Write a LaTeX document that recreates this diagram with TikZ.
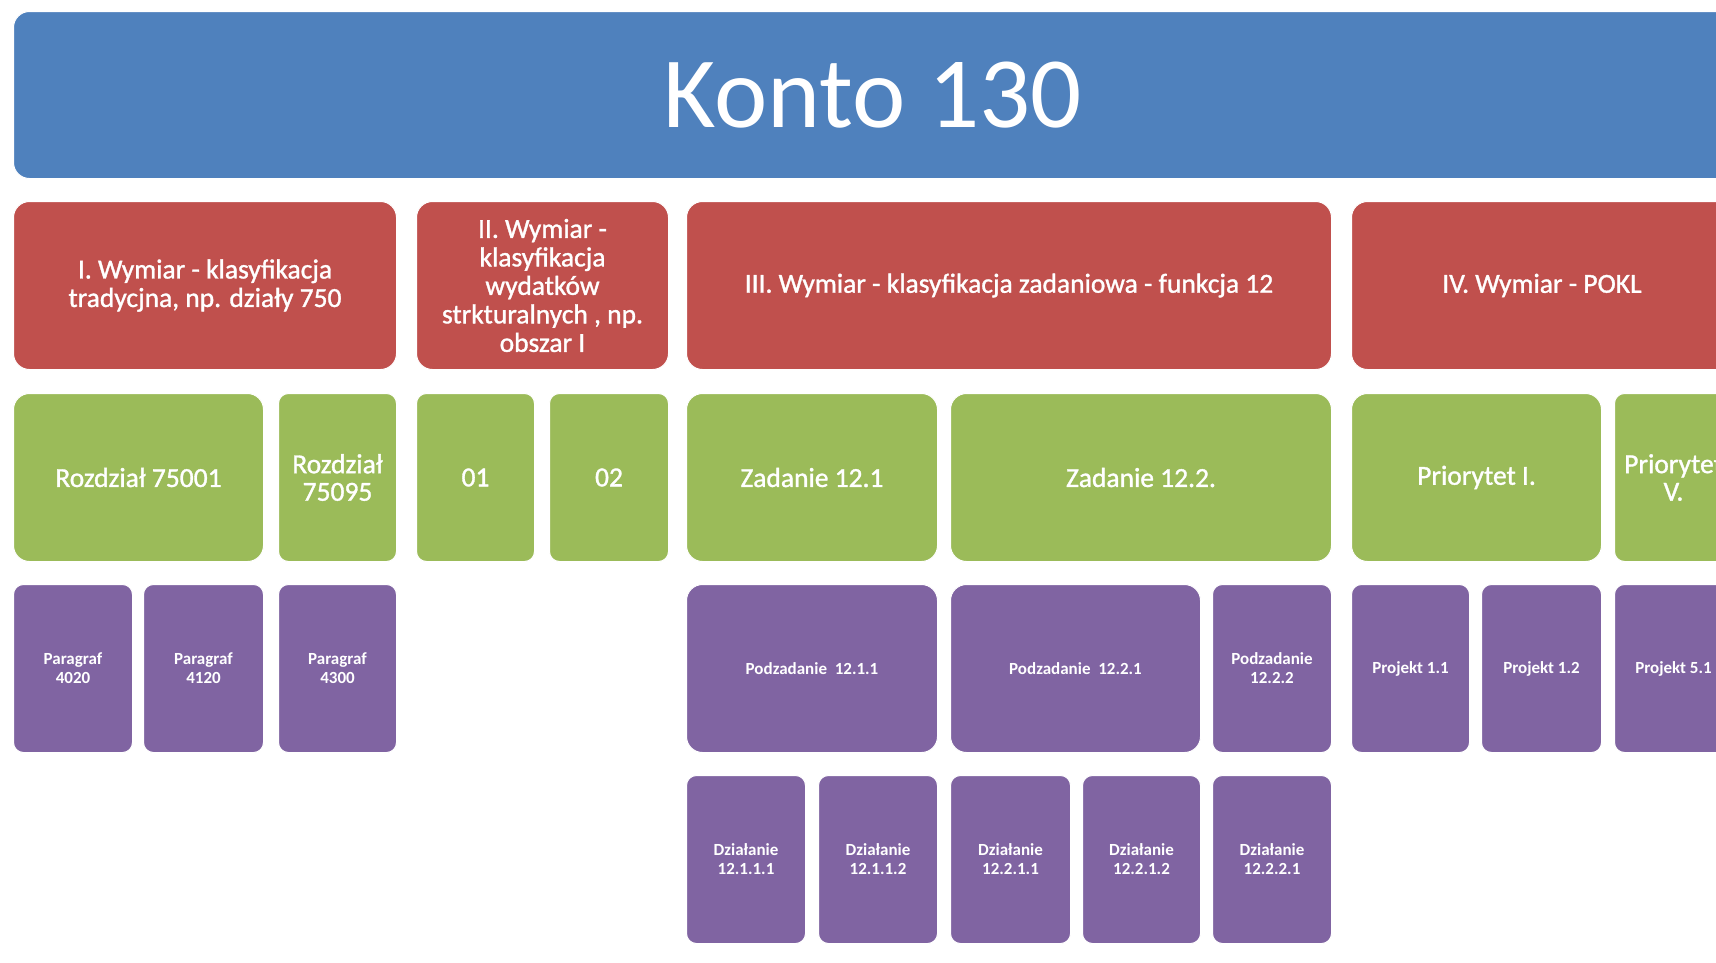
\documentclass[tikz,border=0pt]{standalone}
\usepackage{fontspec}
\setmainfont{Carlito}
\newfontfamily\heavier[FakeBold=1.2]{Carlito}
\definecolor{kblue}{HTML}{4F81BD}
\definecolor{kred}{HTML}{C0504D}
\definecolor{kgreen}{HTML}{9BBB59}
\definecolor{kpurple}{HTML}{8064A2}
\tikzset{
  tile/.style={draw=white, line width=1pt, text=white, anchor=north west,
    inner sep=2pt, minimum height=168pt, align=center, rounded corners=16pt},
  narrow/.style={rounded corners=10pt},
  head/.style={tile, fill=kblue, minimum height=167pt, font=\fontsize{101}{121}\selectfont},
  dimbox/.style={tile, fill=kred, font=\heavier\fontsize{27.5}{28.5}\selectfont},
  partbox/.style={tile, fill=kgreen, font=\heavier\fontsize{27.5}{27.5}\selectfont},
  leafbox/.style={tile, fill=kpurple, font=\bfseries\fontsize{17}{19}\selectfont},
}
\begin{document}
\begin{tikzpicture}[x=1pt,y=-1pt]
\useasboundingbox (0,0) rectangle (1716,962);
\fill[white] (0,0) rectangle (1716,962);
\clip (0,0) rectangle (1716,962);

% title bar
\node[head, minimum width=1719pt] (konto) at (13,11) {Konto 130};

% dimensions
\node[dimbox, minimum width=383pt] (dim1) at (13,201) {I. Wymiar - klasyfikacja\\tradycjna, np. działy 750};
\node[dimbox, minimum width=252pt] (dim2) at (416,201) {II. Wymiar -\\klasyfikacja\\wydatków\\strkturalnych , np.\\obszar I};
\node[dimbox, minimum width=645pt] (dim3) at (686,201) {III. Wymiar - klasyfikacja zadaniowa - funkcja 12};
\node[dimbox, minimum width=381pt] (dim4) at (1351,201) {IV. Wymiar - POKL};

% second level
\node[partbox, minimum width=250pt] (roz1) at (13,393) {Rozdział 75001};
\node[partbox, narrow, minimum width=118pt] (roz2) at (278,393) {Rozdział\\75095};
\node[partbox, narrow, minimum width=118pt] (obs1) at (416,393) {01};
\node[partbox, narrow, minimum width=119pt] (obs2) at (549,393) {02};
\node[partbox, minimum width=251pt] (zad1) at (686,393) {Zadanie 12.1};
\node[partbox, minimum width=381pt] (zad2) at (950,393) {Zadanie 12.2.};
\node[partbox, minimum width=250pt] (pri1) at (1351,393) {Priorytet I.};
\node[partbox, narrow, minimum width=118pt] (pri5) at (1614,393) {Priorytet\\V.};

% third level
\node[leafbox, narrow, minimum width=119pt] (par1) at (13,584) {Paragraf\\4020};
\node[leafbox, narrow, minimum width=120pt] (par2) at (143,584) {Paragraf\\4120};
\node[leafbox, narrow, minimum width=118pt] (par3) at (278,584) {Paragraf\\4300};
\node[leafbox, minimum width=251pt] (pod1) at (686,584) {Podzadanie~~12.1.1};
\node[leafbox, minimum width=250pt] (pod2) at (950,584) {Podzadanie~~12.2.1};
\node[leafbox, narrow, minimum width=119pt] (pod3) at (1212,584) {Podzadanie\\12.2.2};
\node[leafbox, narrow, minimum width=118pt] (prj1) at (1351,584) {Projekt 1.1};
\node[leafbox, narrow, minimum width=120pt] (prj2) at (1481,584) {Projekt 1.2};
\node[leafbox, narrow, minimum width=118pt] (prj5) at (1614,584) {Projekt 5.1};

% fourth level
\node[leafbox, narrow, minimum width=119pt] (dz1) at (686,775) {Działanie\\12.1.1.1};
\node[leafbox, narrow, minimum width=119pt] (dz2) at (818,775) {Działanie\\12.1.1.2};
\node[leafbox, narrow, minimum width=120pt] (dz3) at (950,775) {Działanie\\12.2.1.1};
\node[leafbox, narrow, minimum width=118pt] (dz4) at (1082,775) {Działanie\\12.2.1.2};
\node[leafbox, narrow, minimum width=119pt] (dz5) at (1212,775) {Działanie\\12.2.2.1};
\end{tikzpicture}
\end{document}
